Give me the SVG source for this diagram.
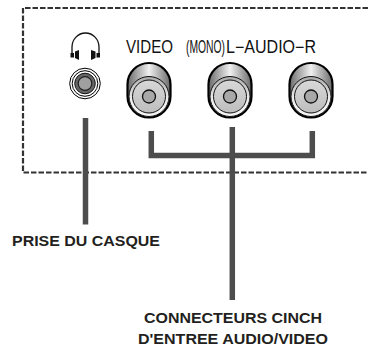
<svg xmlns="http://www.w3.org/2000/svg" width="368" height="349" viewBox="0 0 368 349">
<defs>
<linearGradient id="g" x1="0" y1="0" x2="1" y2="0"><stop offset="0" stop-color="#6a6a6a"/><stop offset=".5" stop-color="#f0f0f0"/><stop offset="1" stop-color="#6a6a6a"/></linearGradient>
<linearGradient id="f" x1="0" y1="0" x2="0" y2="1"><stop offset="0" stop-color="#a8a8a8"/><stop offset=".55" stop-color="#eeeeee"/><stop offset="1" stop-color="#f6f6f6"/></linearGradient>
<linearGradient id="h" x1="0" y1="0" x2="0" y2="1"><stop offset="0" stop-color="#d8d8d8"/><stop offset="1" stop-color="#bdbdbd"/></linearGradient>
<g id="rca">
<rect x="-21.500" y="-34" width="43" height="54.500" rx="21.500" ry="21.500" fill="url(#g)" stroke="#000" stroke-width="2.200"/>
<circle cx="0" cy="-0.500" r="20" fill="url(#f)" stroke="#111" stroke-width="1"/>
<circle cx="0" cy="-0.500" r="16.500" fill="url(#h)" stroke="#111" stroke-width="1"/>
<circle cx="0" cy="-0.500" r="6.500" fill="#a8a8a8" stroke="#111" stroke-width="1.300"/>
</g>
</defs>
<style>
.lbl{font-family:"Liberation Sans",Arial,sans-serif;font-size:15px;font-weight:bold;fill:#231f20}
.top{font-family:"Liberation Sans",Arial,sans-serif;font-size:17.500px;fill:#111}
.ln{fill:none;stroke:#4d4d4d;stroke-width:5.500}
</style>
<path id="panel" d="M368 8H23V172.500H368" fill="none" stroke="#333" stroke-width="2.200" stroke-dasharray="5.500 2"/>
<g id="connectors">
<path class="ln" d="M85.500 118V224.500"/>
<path class="ln" d="M151.300 131V155.500H312.300V131"/>
<path class="ln" d="M232.300 127V300"/>
</g>
<g id="headphones">
<path d="M72 53V47A13 13.500 0 0 1 99 47V53" fill="none" stroke="#111" stroke-width="1.300"/>
<path d="M70.500 53H74V57.500H70.500ZM96.500 53H100V57.500H96.500Z" fill="#111"/>
<path d="M75 51.500L79 50V60L75 58ZM95.500 51.500L91 50V60L95.500 58Z" fill="#111"/>
</g>
<g id="jack">
<circle cx="85" cy="83.500" r="15.300" fill="#fff" stroke="#000" stroke-width="1"/>
<circle cx="85" cy="83.500" r="12.800" fill="#fff" stroke="#000" stroke-width="1"/>
<circle cx="85" cy="83.500" r="10.300" fill="#666" stroke="#111" stroke-width="1"/>
<circle cx="85" cy="83.500" r="6.800" fill="#a0a0a0" stroke="#222" stroke-width="1.200"/>
</g>
<g id="video"><use href="#rca" x="149" y="97"/></g>
<g id="audio-l"><use href="#rca" x="230" y="97"/></g>
<g id="audio-r"><use href="#rca" x="311" y="97"/></g>
<g opacity="0.999">
<text class="top" x="126" y="52.500" textLength="47" lengthAdjust="spacingAndGlyphs">VIDEO</text>
<text class="top" transform="translate(186 52.500) scale(.59 1)" x="0" y="0">(MONO)</text>
<text class="top" x="226" y="52.500" textLength="90" lengthAdjust="spacingAndGlyphs">L−AUDIO−R</text>
<text class="lbl" x="12" y="246" textLength="148" lengthAdjust="spacingAndGlyphs">PRISE DU CASQUE</text>
<text class="lbl" x="144" y="323" textLength="178" lengthAdjust="spacingAndGlyphs">CONNECTEURS CINCH</text>
<text class="lbl" x="138" y="344" textLength="190" lengthAdjust="spacingAndGlyphs">D'ENTREE AUDIO/VIDEO</text>
</g>
</svg>
